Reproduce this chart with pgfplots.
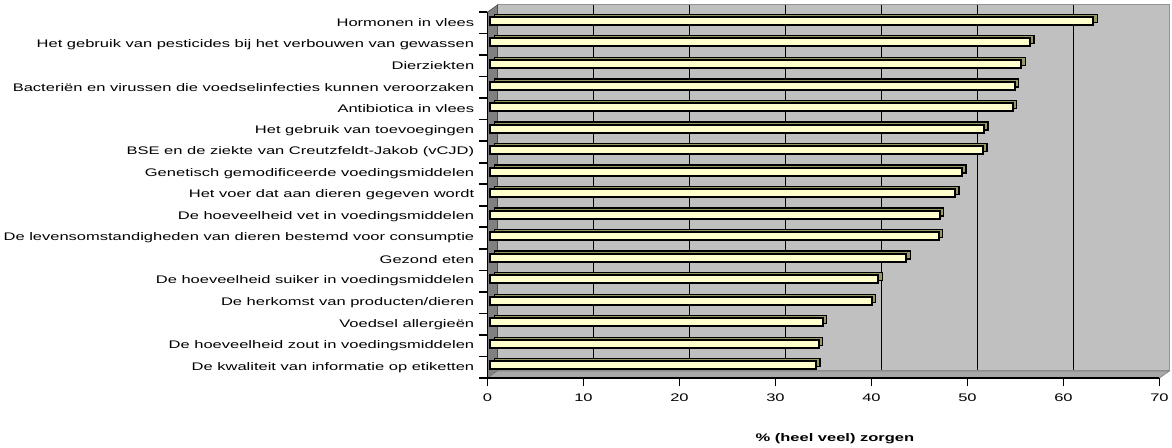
\documentclass[border=0pt]{standalone}
\usepackage{fontspec}
\setmainfont{Liberation Sans}
\usepackage{pgfplots}
\usepackage{pgfplotstable}
\pgfplotsset{compat=1.18}
\definecolor{wall}{HTML}{C0C0C0}
\definecolor{leftwall}{HTML}{808080}
\definecolor{floorc}{HTML}{A8A8A8}
\definecolor{barfill}{HTML}{FFFFCC}
\definecolor{barside}{HTML}{999966}
\pgfplotstableread{
idx val
1 62.8
2 56.2
3 55.3
4 54.6
5 54.4
6 51.4
7 51.3
8 49.1
9 48.4
10 46.8
11 46.7
12 43.3
13 40.4
14 39.7
15 34.6
16 34.2
17 33.9
}\data
\begin{document}
\begin{tikzpicture}
\useasboundingbox (-487.5pt,-69pt) rectangle (684.5pt,378pt);
% back wall
\begin{axis}[at={(10pt,7pt)},anchor=south west,scale only axis,
  width=672pt,height=366pt,xmin=0,xmax=70,ymin=0.5,ymax=17.5,
  axis background/.style={fill=wall},
  xtick={10,20,...,60},xmajorgrids,grid style={black,line width=1.7pt},
  ytick=\empty,xticklabels={},major tick length=0pt,
  axis line style={draw=gray!85,line width=1pt}]
\end{axis}
% left wall and floor
\fill[leftwall,draw=black!70,line width=0.6pt] (0,0) -- (10pt,7pt) -- (10pt,373pt) -- (0,366pt) -- cycle;
\fill[floorc,draw=gray,line width=0.6pt] (0,0) -- (672pt,0) -- (682pt,7pt) -- (10pt,7pt) -- cycle;
% front axis
\begin{axis}[at={(0,0)},anchor=south west,scale only axis,
  width=672pt,height=366pt,xmin=0,xmax=70,ymin=0.5,ymax=17.5,
  y dir=reverse,
  axis x line*=bottom,axis y line*=left,
  axis line style={-,black,line width=1.6pt},
  xtick={0,10,...,70},
  ytick={0.5,1.5,...,17.5},
  y tick label as interval,
  yticklabels={{Hormonen in vlees},
    {Het gebruik van pesticides bij het verbouwen van gewassen},
    {Dierziekten},
    {Bacteriën en virussen die voedselinfecties kunnen veroorzaken},
    {Antibiotica in vlees},
    {Het gebruik van toevoegingen},
    {BSE en de ziekte van Creutzfeldt-Jakob (vCJD)},
    {Genetisch gemodificeerde voedingsmiddelen},
    {Het voer dat aan dieren gegeven wordt},
    {De hoeveelheid vet in voedingsmiddelen},
    {De levensomstandigheden van dieren bestemd voor consumptie},
    {Gezond eten},
    {De hoeveelheid suiker in voedingsmiddelen},
    {De herkomst van producten/dieren},
    {Voedsel allergieën},
    {De hoeveelheid zout in voedingsmiddelen},
    {De kwaliteit van informatie op etiketten}},
  tick align=outside,major tick length=8pt,
  tick style={black,line width=1.6pt},
  /pgf/number format/assume math mode=true,
  ticklabel style={font=\fontsize{11}{13}\selectfont,xscale=1.5},
  xticklabel style={yshift=-4pt},
  xlabel={\% (heel veel) zorgen},
  every axis x label/.style={at={(axis description cs:0.517,0)},yshift=-61pt,anchor=center,
    font=\bfseries\fontsize{11}{13}\selectfont,xscale=1.5},
  clip=false]
\addplot[xbar,bar shift=0pt,bar width=8pt,fill=barside,draw=black,line width=1.3pt,
  xshift=7pt,yshift=4.5pt] table[x=val,y=idx] {\data};
\addplot[xbar,bar shift=0pt,bar width=8pt,fill=barfill,draw=black,line width=2pt,
  xshift=3pt,yshift=1.8pt] table[x=val,y=idx] {\data};
\end{axis}
\end{tikzpicture}
\end{document}
